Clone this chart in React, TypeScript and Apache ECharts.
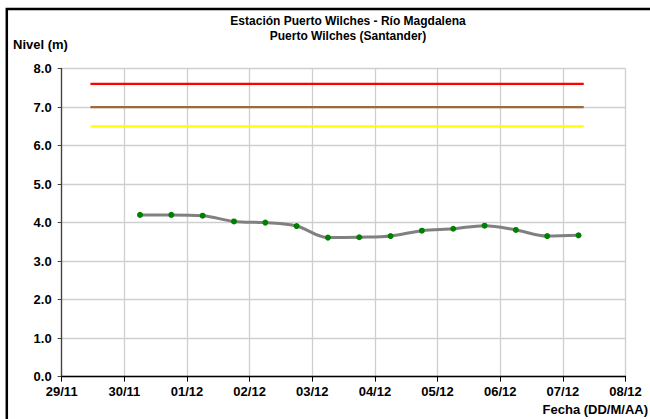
import React, { useEffect, useRef } from "react";
import * as echarts from "echarts";

const titleLines = ["Estación Puerto Wilches - Río Magdalena", "Puerto Wilches (Santander)"];
const yAxisName = "Nivel (m)";
const xAxisName = "Fecha (DD/M/AA)";

const startDate = "2023-11-29 00:00";
const xTickLabels = ["29/11", "30/11", "01/12", "02/12", "03/12", "04/12", "05/12", "06/12", "07/12", "08/12"];

const times = [
  "2023-11-30 06:00", "2023-11-30 18:00",
  "2023-12-01 06:00", "2023-12-01 18:00",
  "2023-12-02 06:00", "2023-12-02 18:00",
  "2023-12-03 06:00", "2023-12-03 18:00",
  "2023-12-04 06:00", "2023-12-04 18:00",
  "2023-12-05 06:00", "2023-12-05 18:00",
  "2023-12-06 06:00", "2023-12-06 18:00",
  "2023-12-07 06:00",
];
const levels = [4.2, 4.2, 4.18, 4.03, 4.0, 3.91, 3.61, 3.62, 3.65, 3.79, 3.84, 3.92, 3.81, 3.65, 3.67];

const thresholdSpan = ["2023-11-29 11:00", "2023-12-07 08:00"];
const thresholdRed = 7.6;
const thresholdBrown = 7.0;
const thresholdYellow = 6.5;

const parse = (s: string) => {
  const [d, t] = s.split(" ");
  const [y, m, dd] = d.split("-").map(Number);
  const [hh, mm] = t.split(":").map(Number);
  return Date.UTC(y, m - 1, dd, hh, mm);
};
const dayOffset = (s: string) => (parse(s) - parse(startDate)) / 86400000;

const FONT = "'Liberation Sans', Arial, sans-serif";

export default function App() {
  const ref = useRef<HTMLDivElement>(null);
  useEffect(() => {
    if (!ref.current) return;
    const chart = echarts.init(ref.current, undefined, { renderer: "svg" });
    const thrLine = (name: string, v: number, color: string) => ({
      name,
      type: "line",
      data: thresholdSpan.map((t) => [dayOffset(t), v]),
      showSymbol: false,
      symbol: "none",
      lineStyle: { color, width: 2.2 },
      z: 3,
    });
    const txt = (text: string, x: number, y: number, size: number, align: string) => ({
      type: "text",
      x,
      y,
      style: {
        text,
        fontSize: size,
        fontWeight: "bold",
        fontFamily: FONT,
        fill: "#000000",
        align,
        verticalAlign: "middle",
      },
    });
    chart.setOption({
      animation: false,
      backgroundColor: "#ffffff",
      textStyle: { fontFamily: FONT },
      grid: { left: 61.7, right: 24.5, top: 68.5, bottom: 42.3, containLabel: false },
      xAxis: {
        type: "value",
        min: 0,
        max: xTickLabels.length - 1,
        interval: 1,
        axisLine: { show: true, lineStyle: { color: "#000000", width: 1.3 } },
        axisTick: { show: true, inside: false, length: 5, lineStyle: { color: "#000000" } },
        axisLabel: {
          formatter: (v: number) => xTickLabels[Math.round(v)] ?? "",
          color: "#000000",
          fontSize: 13,
          fontWeight: "bold",
          fontFamily: FONT,
          margin: 8,
        },
        splitLine: { show: true, lineStyle: { color: "#cfcfcf", width: 1.3 } },
      },
      yAxis: {
        type: "value",
        min: 0,
        max: 8,
        interval: 1,
        axisLine: { show: true, lineStyle: { color: "#404040", width: 1.3 } },
        axisTick: { show: true, inside: false, length: 4, lineStyle: { color: "#404040" } },
        axisLabel: {
          formatter: (v: number) => v.toFixed(1),
          color: "#000000",
          fontSize: 13,
          fontWeight: "bold",
          fontFamily: FONT,
          margin: 10,
        },
        splitLine: { show: true, lineStyle: { color: "#cfcfcf", width: 1.3 } },
      },
      series: [
        thrLine("Rojo", thresholdRed, "#ff0000"),
        thrLine("Naranja", thresholdBrown, "#9c6a3c"),
        thrLine("Amarillo", thresholdYellow, "#ffff00"),
        {
          name: "Nivel",
          type: "line",
          data: times.map((t, i) => [dayOffset(t), levels[i]]),
          smooth: 0.35,
          symbol: "circle",
          symbolSize: 6,
          showSymbol: true,
          lineStyle: { color: "#808080", width: 3 },
          itemStyle: { color: "#008000", borderWidth: 0 },
          z: 4,
        },
      ],
      graphic: [
        {
          type: "rect",
          shape: { x: 6.8, y: 9, width: 700, height: 500 },
          style: { fill: "none", stroke: "#000000", lineWidth: 2.5 },
          silent: true,
        },
        txt(titleLines[0], 348, 21, 12, "center"),
        txt(titleLines[1], 348, 36, 12, "center"),
        txt(yAxisName, 13, 44, 13, "left"),
        txt(xAxisName, 648, 409, 13, "right"),
      ],
    });
    return () => chart.dispose();
  }, []);
  return (
    <div
      ref={ref}
      style={{ position: "fixed", left: 0, top: 0, width: 650, height: 419 }}
    />
  );
}
